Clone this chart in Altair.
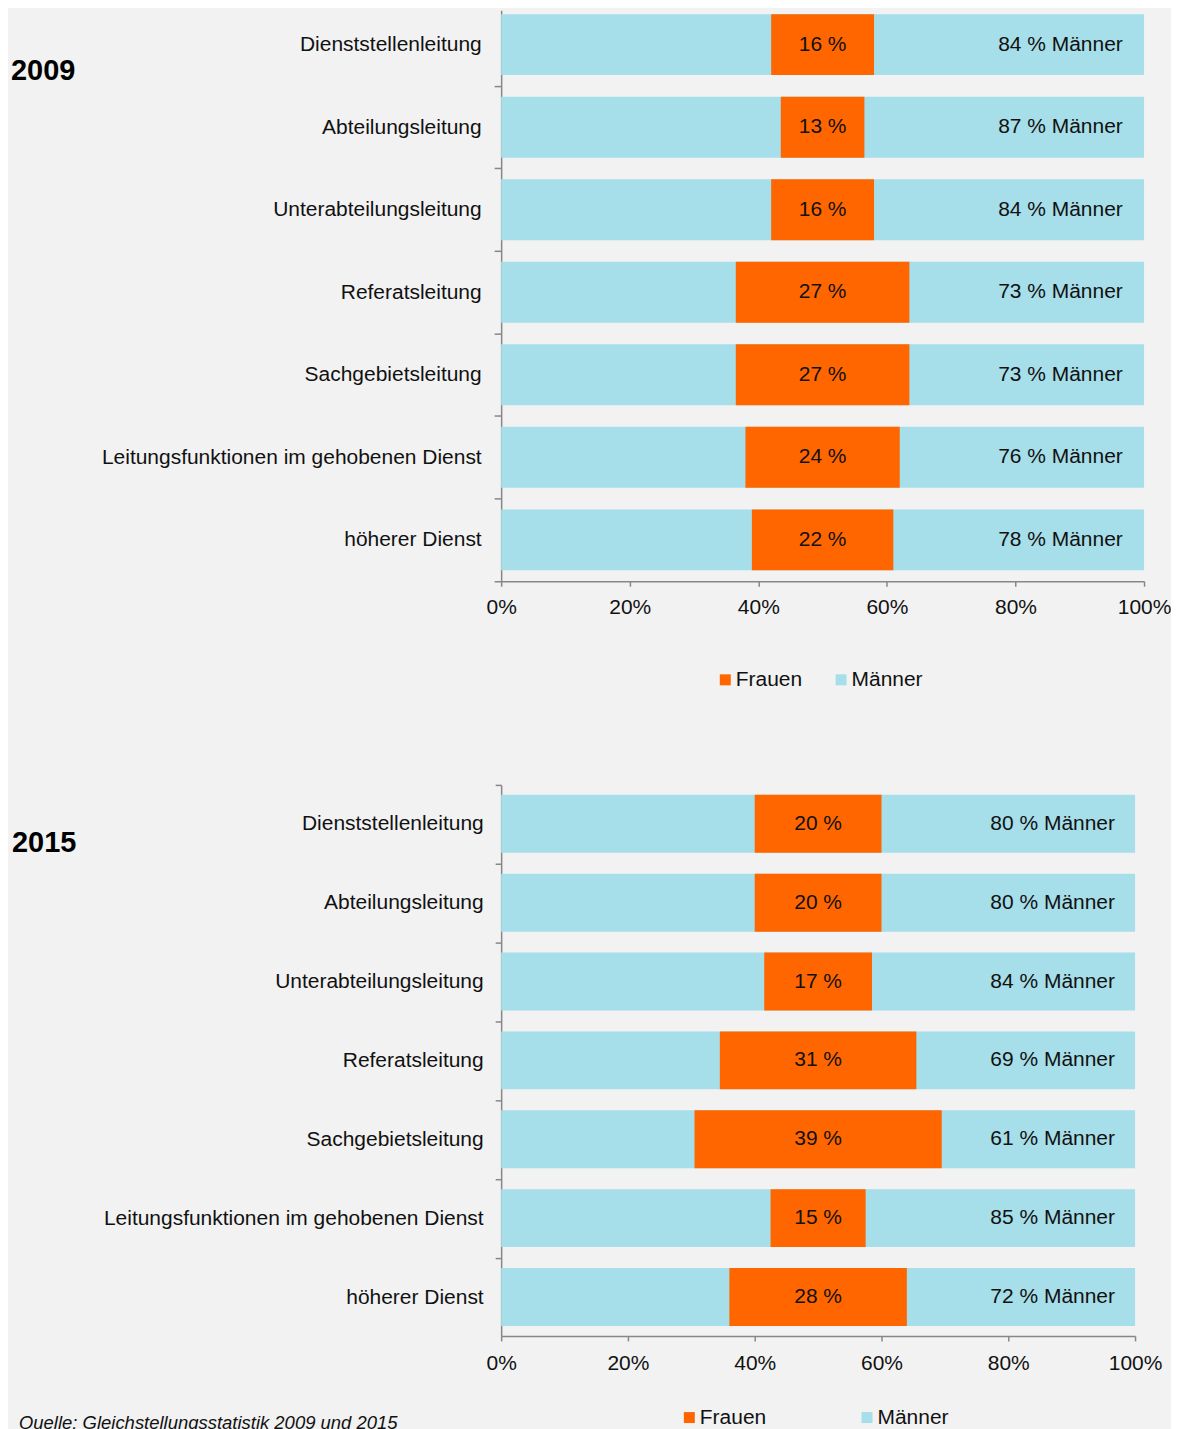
import altair as alt
import pandas as pd

CATEGORIES = [
    "Dienststellenleitung",
    "Abteilungsleitung",
    "Unterabteilungsleitung",
    "Referatsleitung\u00a0",
    "Sachgebietsleitung",
    "Leitungsfunktionen im gehobenen Dienst",
    "höherer Dienst",
]
YEARS = ["2009", "2015"]
FRAUEN_2009 = [16, 13, 16, 27, 27, 24, 22]
MAENNER_2009 = [84, 87, 84, 73, 73, 76, 78]
FRAUEN_2015 = [20, 20, 17, 31, 39, 15, 28]
MAENNER_2015 = [80, 80, 84, 69, 61, 85, 72]
X_TICKS = [0, 20, 40, 60, 80, 100]
GROUPS = ["Frauen", "Männer"]
SOURCE = ["Quelle: Gleichstellungsstatistik 2009 und 2015"]

ORANGE = "#FF6600"
BLUE = "#A6DEE9"
BG = "#F2F2F2"
TEXT = "#111111"
AXIS = "#878787"
FONT = "Liberation Sans"
FS = 21


def panel(year, frauen, maenner, width, height, yscale, ytick, ypad,
          band_pos, tick_off, xpad, legend_xy, col_pad, year_xy, source_xy=None):
    df = pd.DataFrame({"cat": CATEGORIES, "frauen": frauen, "maenner": maenner})
    base = alt.Chart(df)
    y = alt.Y(
        "cat:N", sort=CATEGORIES, title=None, scale=yscale,
        axis=alt.Axis(
            bandPosition=band_pos, tickOffset=tick_off, labelOffset=-tick_off,
            tickExtra=False, tickSize=ytick, labelPadding=ypad,
            domainColor=AXIS, tickColor=AXIS, domainWidth=1.5, tickWidth=1.5,
            labelFont=FONT, labelFontSize=FS, labelColor=TEXT, labelLimit=600,
            grid=False, title=None,
        ),
    )
    xscale = alt.Scale(domain=[0, 100], nice=False, zero=True)
    xaxis = alt.Axis(
        values=X_TICKS, labelExpr="datum.value + '%'", title=None,
        tickSize=5, labelPadding=xpad, labelFont=FONT, labelFontSize=FS,
        labelColor=TEXT, labelFlush=False, labelOverlap=False,
        domainColor=AXIS, tickColor=AXIS, domainWidth=1.5, tickWidth=1.5,
        grid=False,
    )
    legend = alt.Legend(
        orient="none", legendX=legend_xy[0], legendY=legend_xy[1],
        direction="horizontal", title=None, symbolType="square",
        symbolSize=121, symbolStrokeWidth=0, labelFont=FONT,
        labelFontSize=FS, labelColor=TEXT, labelOffset=0,
        columnPadding=col_pad, padding=0,
    )
    color = alt.Color(
        "group:N", title=None,
        scale=alt.Scale(domain=GROUPS, range=[ORANGE, BLUE]),
        legend=legend,
    )
    men_bar = base.transform_calculate(
        group="'Männer'", lo="0", hi="100"
    ).mark_bar().encode(
        x=alt.X("lo:Q", scale=xscale, axis=xaxis), x2="hi:Q", y=y, color=color
    )
    women_bar = base.transform_calculate(
        group="'Frauen'", lo="50 - datum.frauen / 2", hi="50 + datum.frauen / 2"
    ).mark_bar().encode(x="lo:Q", x2="hi:Q", y=y, color=color)
    women_text = base.transform_calculate(
        label="datum.frauen + ' %'", pos="50"
    ).mark_text(font=FONT, fontSize=FS, color=TEXT, align="center",
                baseline="middle").encode(x="pos:Q", y=y, text="label:N")
    men_text = base.transform_calculate(
        label="datum.maenner + ' % Männer'", pos="87"
    ).mark_text(font=FONT, fontSize=FS, color=TEXT, align="center",
                baseline="middle").encode(x="pos:Q", y=y, text="label:N")
    year_text = alt.Chart(pd.DataFrame({"year": [year]})).mark_text(
        font=FONT, fontSize=29, fontWeight="bold", color="#000000",
        align="left", baseline="alphabetic",
    ).encode(text="year:N", x=alt.value(year_xy[0]), y=alt.value(year_xy[1]))
    layers = [men_bar, women_bar, women_text, men_text, year_text]
    if source_xy is not None:
        src = alt.Chart(pd.DataFrame({"src": SOURCE})).mark_text(
            font=FONT, fontSize=18.5, fontStyle="italic", color=TEXT,
            align="left", baseline="alphabetic",
        ).encode(text="src:N", x=alt.value(source_xy[0]), y=alt.value(source_xy[1]))
        layers.append(src)
    return alt.layer(*layers).properties(width=width, height=height)


p1 = panel(
    YEARS[0], FRAUEN_2009, MAENNER_2009, 644, 572,
    alt.Scale(paddingInner=0.262, paddingOuter=0.0905, align=0.267),
    7, 13, 1, 10.8, 10, (214, 660), 28, (-491, 70),
)
p2 = panel(
    YEARS[1], FRAUEN_2015, MAENNER_2015, 635, 552,
    alt.Scale(paddingInner=0.266, paddingOuter=0.1266, align=0.5),
    6, 12, 0, -10.5, 12, (178, 623), 90, (-490, 67), (-483, 645),
)

chart = alt.vconcat(p1, p2, spacing=94).resolve_scale(
    x="independent", y="independent", color="independent"
).properties(
    background=BG,
    padding={"left": 3, "top": 1, "right": 0, "bottom": 0},
).configure_view(stroke=None)

chart.save("out.html", embed_options={"renderer": "svg", "actions": False})
